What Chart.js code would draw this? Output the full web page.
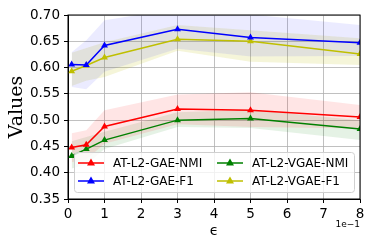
<!DOCTYPE html>
<html>
<head>
<meta charset="utf-8">
<script src="https://cdn.jsdelivr.net/npm/chart.js@4"></script>
<style>
  html, body { margin: 0; padding: 0; background: #fff; }
</style>
</head>
<body>
<canvas id="myChart" width="374" height="249"></canvas>
<script>
// epsilon values (units of 1e-1)
const eps = [0.1, 0.5, 1, 3, 5, 8];
const yTicks = [0.35, 0.40, 0.45, 0.50, 0.55, 0.60, 0.65, 0.70];

const gaeNmi      = [0.448, 0.453, 0.488, 0.521, 0.519, 0.506];
const gaeNmiHi    = [0.475, 0.481, 0.519, 0.549, 0.553, 0.529];
const gaeNmiLo    = [0.420, 0.425, 0.455, 0.492, 0.487, 0.484];

const gaeF1       = [0.606, 0.605, 0.642, 0.673, 0.657, 0.647];
const gaeF1Hi     = [0.629, 0.652, 0.690, 0.712, 0.701, 0.681];
const gaeF1Lo     = [0.563, 0.559, 0.592, 0.636, 0.621, 0.622];

const vgaeNmi     = [0.432, 0.445, 0.462, 0.500, 0.503, 0.483];
const vgaeNmiHi   = [0.460, 0.468, 0.478, 0.515, 0.520, 0.500];
const vgaeNmiLo   = [0.408, 0.415, 0.445, 0.487, 0.485, 0.462];

const vgaeF1      = [0.593, 0.604, 0.619, 0.654, 0.650, 0.626];
const vgaeF1Hi    = [0.628, 0.637, 0.648, 0.681, 0.671, 0.656];
const vgaeF1Lo    = [0.565, 0.575, 0.582, 0.632, 0.611, 0.605];

function pts(arr) {
  return arr.map((v, i) => ({x: eps[i], y: v}));
}

function line(label, data, color) {
  return {
    label: label,
    data: pts(data),
    borderColor: color,
    backgroundColor: color,
    borderWidth: 1.5,
    pointStyle: 'triangle',
    pointRadius: 4,
    pointBorderWidth: 0,
    fill: false,
    tension: 0,
    inLegend: true,
    order: 0
  };
}

function band(hi, lo, fillColor) {
  return [
    {label: '', data: pts(hi), borderWidth: 0, pointRadius: 0, backgroundColor: fillColor,
     fill: '+1', order: 10},
    {label: '', data: pts(lo), borderWidth: 0, pointRadius: 0, backgroundColor: 'transparent',
     fill: false, order: 10}
  ];
}

const datasets = [
  line('AT-L2-GAE-NMI', gaeNmi, '#ff0000'),
  line('AT-L2-GAE-F1', gaeF1, '#0000ff'),
  line('AT-L2-VGAE-NMI', vgaeNmi, '#008000'),
  line('AT-L2-VGAE-F1', vgaeF1, '#bfbf00'),
  ...band(gaeNmiHi, gaeNmiLo, 'rgba(255,0,0,0.1)'),
  ...band(gaeF1Hi, gaeF1Lo, 'rgba(0,0,255,0.08)'),
  ...band(vgaeNmiHi, vgaeNmiLo, 'rgba(0,128,0,0.1)'),
  ...band(vgaeF1Hi, vgaeF1Lo, 'rgba(191,191,0,0.15)')
];

// box around plot, legend inside, offset text
const extras = {
  id: 'extras',
  afterDraw(chart) {
    const ctx = chart.ctx;
    const a = chart.chartArea;
    ctx.save();
    ctx.strokeStyle = '#000';
    ctx.lineWidth = 1;
    ctx.strokeRect(a.left, a.top, a.right - a.left, a.bottom - a.top);

    // offset text
    ctx.fillStyle = '#000';
    ctx.font = '9px "DejaVu Sans"';
    ctx.textAlign = 'right';
    ctx.textBaseline = 'middle';
    ctx.fillText('1e\u22121', a.right, 225);

    // legend
    const items = chart.data.datasets.filter(d => d.inLegend);
    const bx = 74, by = 152, bw = 280, bh = 40;
    ctx.fillStyle = 'rgba(255,255,255,0.8)';
    ctx.strokeStyle = '#d0d0d0';
    ctx.lineWidth = 1;
    ctx.beginPath();
    ctx.roundRect(bx + 0.5, by + 0.5, bw, bh, 3);
    ctx.fill();
    ctx.stroke();
    ctx.font = '12px "DejaVu Sans"';
    ctx.textAlign = 'left';
    const cols = [[78, 113], [217, 252]];
    const rows = [163, 181];
    items.forEach((d, i) => {
      const c = cols[Math.floor(i / 2)];
      const y = rows[i % 2];
      ctx.strokeStyle = d.borderColor;
      ctx.lineWidth = 1.5;
      ctx.beginPath();
      ctx.moveTo(c[0], y);
      ctx.lineTo(c[0] + 26, y);
      ctx.stroke();
      ctx.fillStyle = d.borderColor;
      const cx = c[0] + 13;
      ctx.beginPath();
      ctx.moveTo(cx, y - 4.5);
      ctx.lineTo(cx + 4, y + 2.5);
      ctx.lineTo(cx - 4, y + 2.5);
      ctx.closePath();
      ctx.fill();
      ctx.fillStyle = '#000';
      ctx.fillText(d.label, c[1], y + 1);
    });
    ctx.restore();
  }
};

const ctx = document.getElementById('myChart').getContext('2d');

new Chart(ctx, {
  type: 'line',
  data: { datasets: datasets },
  options: {
    responsive: false,
    animation: false,
    devicePixelRatio: 1,
    layout: { padding: { left: 0, top: 15, right: 14, bottom: 0 } },
    plugins: {
      legend: { display: false },
      tooltip: { enabled: false },
      filler: { propagate: false }
    },
    scales: {
      x: {
        type: 'linear',
        min: 0,
        max: 8,
        afterFit(scale) { scale.height = 50; },
        ticks: {
          stepSize: 1,
          color: '#000',
          padding: 3,
          font: { family: 'DejaVu Sans', size: 13.5 },
          maxRotation: 0
        },
        grid: {
          color: '#b0b0b0',
          borderDash: [2, 2],
          lineWidth: 0.8,
          tickColor: '#000',
          tickBorderDash: [],
          tickWidth: 1,
          tickLength: 4
        },
        border: { color: '#000', width: 1, dash: [] },
        title: {
          display: true,
          text: '\u03f5',
          color: '#000',
          font: { family: 'DejaVu Sans', size: 14 },
          padding: { top: 2, bottom: 9 }
        }
      },
      y: {
        min: 0.35,
        max: 0.70,
        afterFit(scale) { scale.width = 68; },
        afterBuildTicks(scale) {
          scale.ticks = yTicks.map(v => ({ value: v }));
        },
        ticks: {
          color: '#000',
          padding: 4,
          font: { family: 'DejaVu Sans', size: 13.5 },
          callback: v => v.toFixed(2)
        },
        grid: {
          color: '#b0b0b0',
          borderDash: [2, 2],
          lineWidth: 0.8,
          tickColor: '#000',
          tickBorderDash: [],
          tickWidth: 1,
          tickLength: 4
        },
        border: { color: '#000', width: 1 },
        title: {
          display: true,
          text: 'Values',
          color: '#000',
          font: { family: 'DejaVu Serif', size: 19 },
          padding: { top: 6, bottom: 0 }
        }
      }
    }
  },
  plugins: [extras]
});
</script>
</body>
</html>
